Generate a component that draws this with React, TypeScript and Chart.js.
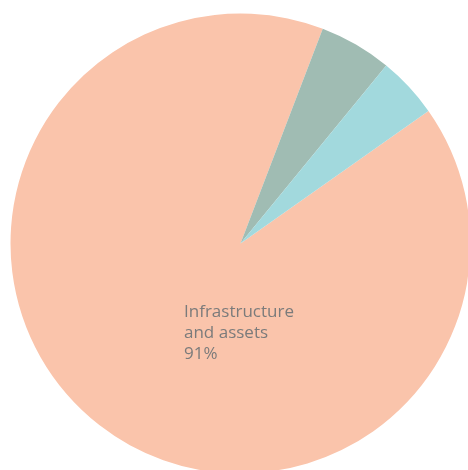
import React, { useEffect, useRef } from "react";
import { Chart, registerables } from "chart.js";

Chart.register(...registerables);

const categories = ["Infrastructure and assets", "Other A", "Other B"];
const values = [90.6, 5.1, 4.3];
const colors = ["#FAC4AB", "#A0BCB3", "#A2D9DD"];
const labelLines = ["Infrastructure", "and assets", "91%"];

const labelPlugin = {
  id: "sliceLabel",
  afterDatasetsDraw(chart: any) {
    const meta = chart.getDatasetMeta(0);
    const arc = meta.data[0];
    if (!arc) return;
    const { x, y } = arc.getProps(["x", "y"], true);
    const ctx = chart.ctx;
    ctx.save();
    ctx.fillStyle = "#7b7b7b";
    ctx.font = "17px 'Open Sans', sans-serif";
    ctx.textAlign = "left";
    ctx.textBaseline = "middle";
    labelLines.forEach((line, i) => {
      ctx.fillText(line, x - 56.5, y + 69 + i * 21);
    });
    ctx.restore();
  },
};

export default function App() {
  const ref = useRef<HTMLCanvasElement>(null);
  useEffect(() => {
    if (!ref.current) return;
    const chart = new Chart(ref.current, {
      type: "pie",
      data: {
        labels: categories,
        datasets: [
          {
            data: values,
            backgroundColor: colors,
            borderWidth: 0,
          },
        ],
      },
      options: {
        responsive: false,
        animation: false,
        rotation: 54.8,
        layout: { padding: { left: 10.5, top: 13.5, right: 9.5, bottom: 6.5 } },
        plugins: {
          legend: { display: false },
          tooltip: { enabled: false },
        },
      },
      plugins: [labelPlugin],
    });
    return () => chart.destroy();
  }, []);
  return (
    <div style={{ position: "fixed", left: 0, top: 0, right: 0, bottom: 0, overflow: "hidden", background: "#fff" }}>
      <canvas ref={ref} width={480} height={480} style={{ display: "block" }} />
    </div>
  );
}
